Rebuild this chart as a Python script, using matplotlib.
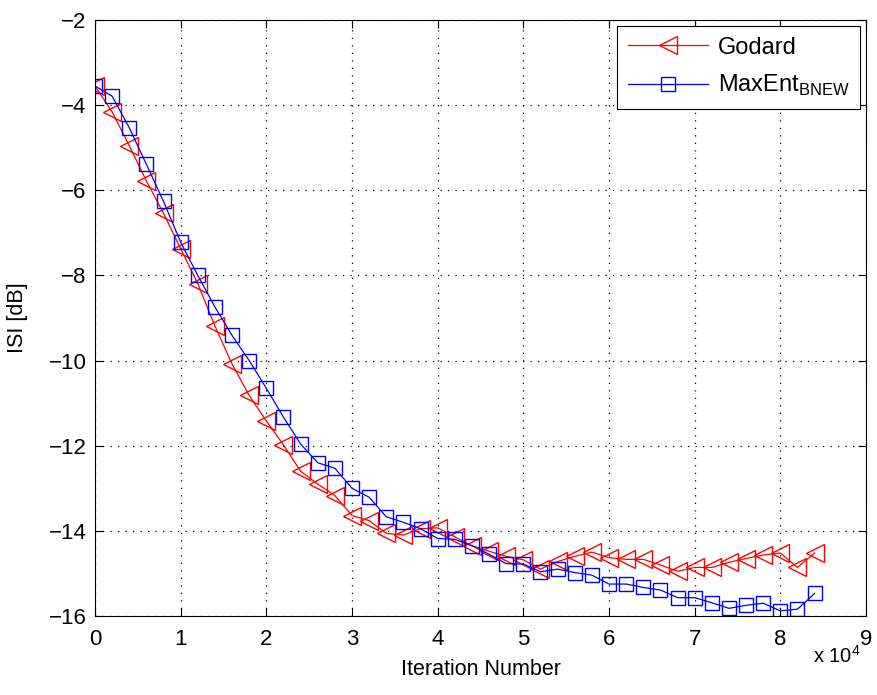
import matplotlib
matplotlib.use("Agg")
import matplotlib.pyplot as plt
import numpy as np

plt.rcParams['font.family'] = ['Liberation Sans', 'DejaVu Sans']
plt.rcParams['mathtext.fontset'] = 'custom'
plt.rcParams['mathtext.rm'] = 'Liberation Sans'

iterations = np.arange(0, 8.41, 0.2)  # units of 10^4

godard = [-3.55, -4.16, -4.95, -5.78, -6.54, -7.37, -8.19, -9.19, -10.08, -10.82,
          -11.42, -11.98, -12.60, -12.90, -13.17, -13.64, -13.76, -14.06, -14.10, -13.95,
          -13.93, -14.14, -14.35, -14.48, -14.60, -14.68, -14.90, -14.72, -14.60, -14.50,
          -14.63, -14.67, -14.67, -14.80, -14.95, -14.86, -14.86, -14.74, -14.65, -14.57,
          -14.52, -14.86, -14.52]

maxent = [-3.55, -3.79, -4.53, -5.39, -6.26, -7.22, -8.00, -8.74, -9.41, -10.00,
          -10.65, -11.33, -11.96, -12.40, -12.53, -13.00, -13.21, -13.67, -13.80, -13.95,
          -14.18, -14.20, -14.35, -14.55, -14.77, -14.78, -14.96, -14.90, -14.98, -15.04,
          -15.25, -15.25, -15.33, -15.39, -15.57, -15.57, -15.69, -15.82, -15.75, -15.70,
          -15.88, -15.84, -15.47]

xticks = list(range(0, 10))
yticks = list(range(-16, -1, 2))

fig = plt.figure(figsize=(8.77, 6.95), dpi=100)
ax = fig.add_axes([0.1083, 0.1137, 0.8792, 0.8575])

ax.plot(iterations, godard, color='red', marker='<', markersize=13,
        markerfacecolor='none', markeredgecolor='red', linewidth=0.9,
        markeredgewidth=1.0, label='Godard')
ax.plot(iterations, maxent, color='blue', marker='s', markersize=10.5,
        markerfacecolor='none', markeredgecolor='blue', linewidth=0.9,
        markeredgewidth=1.0, label=r'MaxEnt$_{\mathregular{BNEW}}$')

ax.set_xlim(0, 9)
ax.set_ylim(-16, -2)
ax.set_xticks(xticks)
ax.set_yticks(yticks)
ax.set_yticklabels([('\u2212%d' % abs(v)) for v in yticks])
ax.tick_params(direction='in', top=True, right=True, labelsize=16, length=6, width=0.8)
ax.tick_params(axis='x', pad=9.5)
ax.tick_params(axis='y', pad=6)
ax.grid(True, linestyle=(0, (1, 5)), color='black', linewidth=0.9)
for s in ax.spines.values():
    s.set_linewidth(0.8)

ax.set_xlabel('Iteration Number', fontsize=15.5, labelpad=6)
ax.set_ylabel('ISI [dB]', fontsize=15.5, labelpad=15)

leg = ax.legend(loc='upper right', fontsize=17, numpoints=1, handlelength=3.4,
                fancybox=False, edgecolor='black', framealpha=1,
                borderaxespad=0.25, labelspacing=0.62, handletextpad=0.4,
                borderpad=0.45)
leg.get_frame().set_linewidth(0.8)

fig.text(0.927, 0.046, r'x 10$^{\mathregular{4}}$', fontsize=14.5, ha='left',
         va='baseline')

fig.savefig('out.png', dpi=100)
